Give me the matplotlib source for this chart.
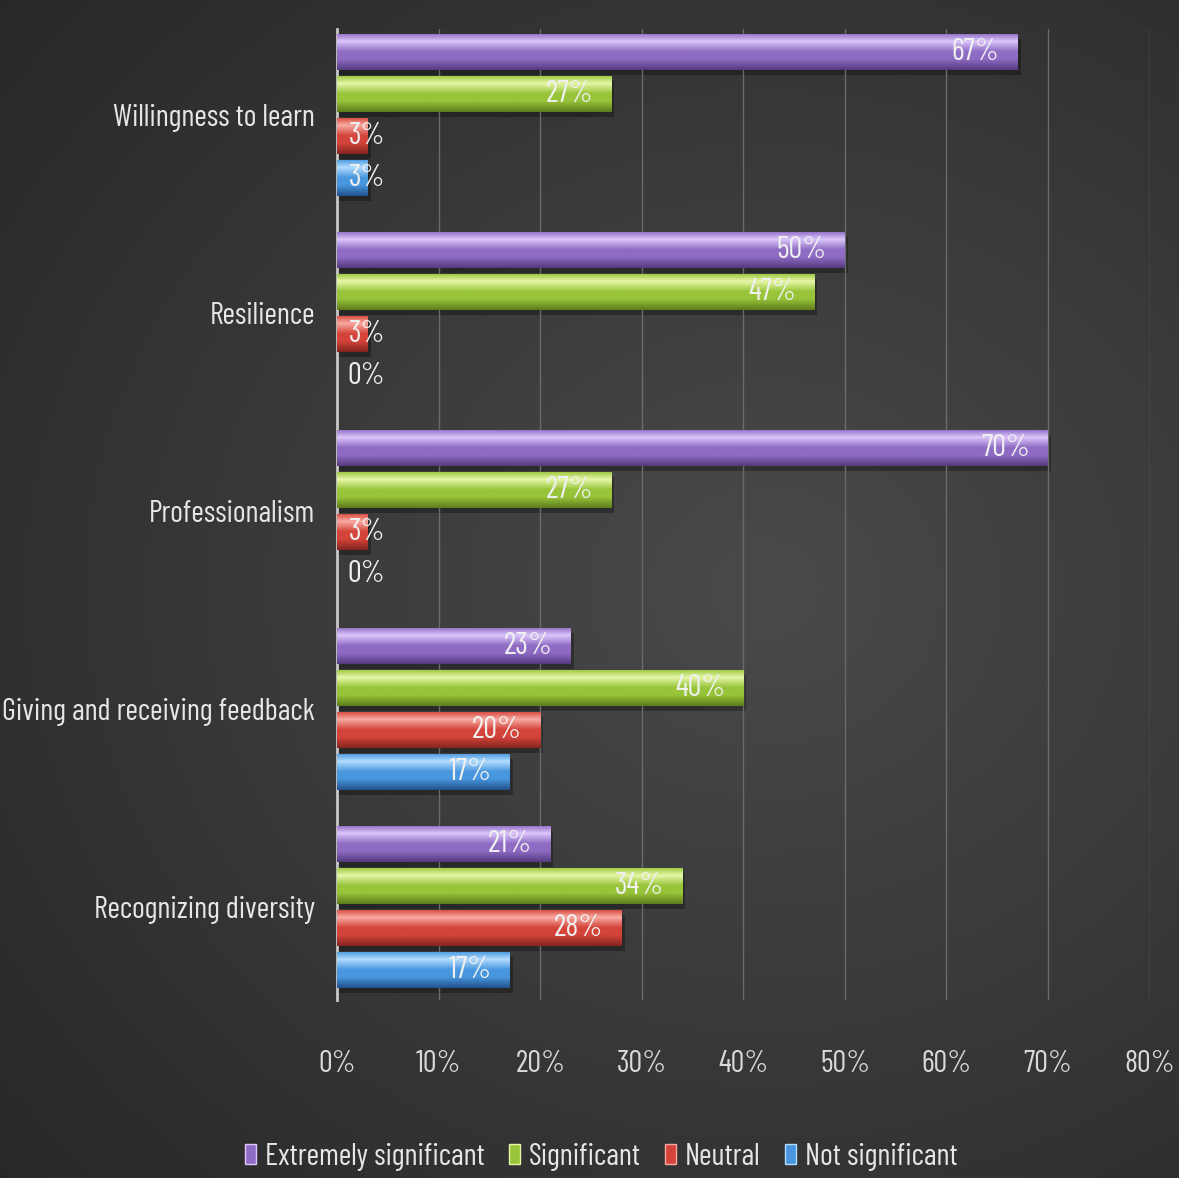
import numpy as np
import matplotlib.pyplot as plt
from matplotlib.colors import to_rgb
from matplotlib.patches import Patch

plt.rcParams['font.family'] = ['Barlow Condensed', 'DejaVu Sans']

categories = ['Willingness to learn', 'Resilience', 'Professionalism',
              'Giving and receiving feedback', 'Recognizing diversity']
series = ['Extremely significant', 'Significant', 'Neutral', 'Not significant']
extremely = [67, 50, 70, 23, 21]
significant = [27, 47, 27, 40, 34]
neutral = [3, 3, 3, 20, 28]
not_significant = [3, 0, 0, 17, 17]
values = [extremely, significant, neutral, not_significant]
xticks = [0, 10, 20, 30, 40, 50, 60, 70, 80]

# (dark, mid, light) shades for the glossy bars
shades = [('#553a80', '#8f6cc4', '#dcc6fb'),
          ('#5f7d1c', '#98c43a', '#e6f7a8'),
          ('#852520', '#d5443a', '#f8aaa2'),
          ('#23528c', '#4897de', '#b2dcff')]

fig = plt.figure(figsize=(11.79, 11.78), dpi=100)

# dark radial background
bg = fig.add_axes([0, 0, 1, 1], zorder=-10)
yy, xx = np.mgrid[0:1:300j, 0:1:300j]
r = np.sqrt(((xx - 0.65) / 0.9) ** 2 + ((yy - 0.5) / 0.8) ** 2)
shade = np.clip(0.29 - 0.14 * r, 0.15, 0.3)
bg.imshow(np.dstack([shade] * 3), extent=(0, 1, 0, 1), aspect='auto')
bg.axis('off')

ax = fig.add_axes([0.286, 0.151, 0.689, 0.824])
ax.patch.set_alpha(0)

n = len(categories)
pos = np.arange(n)[::-1]
slot = 0.212
height = 0.182
offsets = [1.5 * slot, 0.5 * slot, -0.5 * slot, -1.5 * slot]

stops = np.array([0.0, 0.3, 0.5, 0.78, 1.0])
t = np.linspace(0, 1, 64)
for vals, off, (dk, md, lt), name in zip(values, offsets, shades, series):
    # soft shadow beneath each bar
    ax.barh(pos + off - 0.025, [v + 0.3 if v else 0 for v in vals], height=height,
            color='black', alpha=0.3, zorder=1)
    bars = ax.barh(pos + off, vals, height=height, color=md, zorder=2, label=name)
    cols = [np.array(to_rgb(c)) for c in (dk, md, md, lt, md)]
    grad = np.array([[np.interp(tt, stops, [c[k] for c in cols]) for k in range(3)] for tt in t])
    for b, v in zip(bars, vals):
        yc = b.get_y() + b.get_height() / 2
        ax.text(max(v - 1.8, 4.7), yc, f'{v}%', ha='right', va='center',
                color='#f0f0f0', fontsize=22, zorder=4)
        if v == 0:
            continue
        x0, y0 = b.get_x(), b.get_y()
        im = ax.imshow(grad[:, None, :], extent=(x0, x0 + b.get_width(), y0, y0 + b.get_height()),
                       origin='lower', aspect='auto', zorder=3)
        im.set_clip_path(b)

ax.set_xlim(0, 80)
ax.set_ylim(-0.47, 4.43)
ax.set_xticks(xticks)
ax.set_xticklabels([f'{t}%' for t in xticks])
ax.set_yticks(pos)
ax.set_yticklabels(categories)
ax.tick_params(axis='x', length=0, pad=36, labelsize=22, colors='#d9d9d9')
ax.tick_params(axis='y', length=0, pad=16, labelsize=22, colors='#e6e6e6')
ax.grid(axis='x', color='#6a6a6a', linewidth=1, zorder=0)
for s in ['top', 'right', 'bottom']:
    ax.spines[s].set_visible(False)
ax.spines['left'].set_color('#c8c8c8')
ax.spines['left'].set_linewidth(2)

handles = [Patch(facecolor=md, edgecolor=lt, label=s) for (dk, md, lt), s in zip(shades, series)]
fig.legend(handles=handles, loc='center', bbox_to_anchor=(0.51, 0.018), ncol=4,
           frameon=False, fontsize=22, labelcolor='#e6e6e6', handlelength=0.35,
           handleheight=0.6, handletextpad=0.3, columnspacing=0.8)

fig.savefig('out.png', dpi=100)
